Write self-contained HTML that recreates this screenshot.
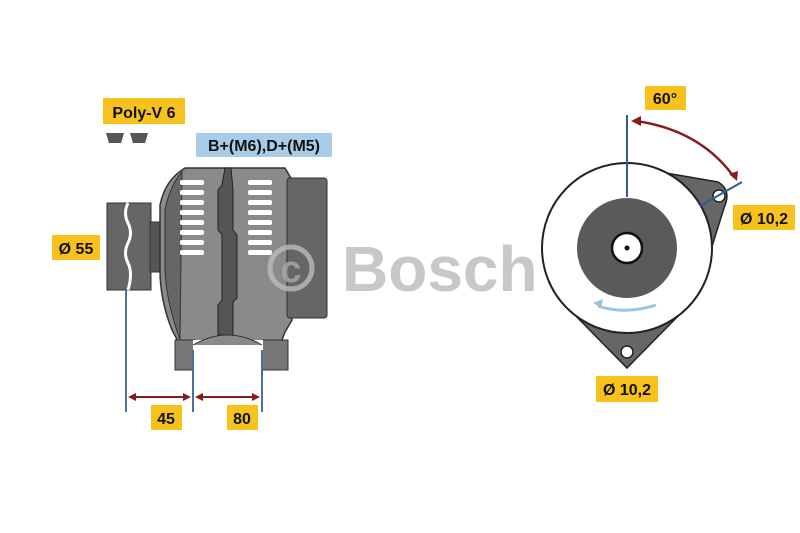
<!DOCTYPE html>
<html><head><style>html,body{margin:0;padding:0;background:#fff}svg{display:block}</style></head><body>
<svg width="800" height="533" viewBox="0 0 800 533" xmlns="http://www.w3.org/2000/svg" font-family="Liberation Sans, sans-serif" font-weight="bold">
<rect width="800" height="533" fill="#fff"/>
<!-- pulley -->
<rect x="107" y="203" width="44" height="87" fill="#666" stroke="#333"/>
<rect x="150" y="222" width="10" height="50" fill="#555" stroke="#333"/>
<path d="M128 203 q-5 10 0 20 q5 10 0 20 q-5 10 0 20 q5 10 0 27" stroke="#fff" stroke-width="3" fill="none"/>
<!-- body -->
<path d="M160 205 Q165 180 185 168 L285 168 L292 180 L292 320 L285 332 L280 345 L180 345 L172 330 Q160 300 160 270 Z" fill="#8a8a8a" stroke="#333" stroke-width="1.5"/>
<path d="M165 210 Q170 185 182 172 L180 340 Q166 300 165 270 Z" fill="#666" stroke="#333"/>
<path d="M225 168 L222 185 L218 190 L218 230 L222 235 L222 300 L218 305 L218 335 L233 335 L233 302 L237 298 L237 235 L233 230 L233 190 L231 168 Z" fill="#555" stroke="#222"/>
<g fill="#fff">
<rect x="180" y="180" width="24" height="5" rx="2"/><rect x="180" y="190" width="24" height="5" rx="2"/><rect x="180" y="200" width="24" height="5" rx="2"/><rect x="180" y="210" width="24" height="5" rx="2"/><rect x="180" y="220" width="24" height="5" rx="2"/><rect x="180" y="230" width="24" height="5" rx="2"/><rect x="180" y="240" width="24" height="5" rx="2"/><rect x="180" y="250" width="24" height="5" rx="2"/>
<rect x="248" y="180" width="24" height="5" rx="2"/><rect x="248" y="190" width="24" height="5" rx="2"/><rect x="248" y="200" width="24" height="5" rx="2"/><rect x="248" y="210" width="24" height="5" rx="2"/><rect x="248" y="220" width="24" height="5" rx="2"/><rect x="248" y="230" width="24" height="5" rx="2"/><rect x="248" y="240" width="24" height="5" rx="2"/><rect x="248" y="250" width="24" height="5" rx="2"/>
</g>
<rect x="287" y="178" width="40" height="140" rx="3" fill="#666" stroke="#333"/>
<!-- feet -->
<path d="M175 340 L195 340 L195 370 L175 370 Z" fill="#777" stroke="#333"/>
<path d="M262 340 L288 340 L288 370 L262 370 Z" fill="#777" stroke="#333"/>
<rect x="193" y="340" width="70" height="35" fill="#fff"/>
<path d="M193 345 Q228 325 262 345" fill="#8a8a8a" stroke="#333"/>
<!-- belt icon -->
<path d="M106 133 h18 l-3 10 h-12 z M130 133 h18 l-3 10 h-12 z" fill="#555"/>
<!-- watermark -->
<circle cx="291" cy="268" r="21" fill="none" stroke="#bbb" stroke-width="5" opacity="0.8"/>
<text x="291" y="282" font-size="38" fill="#aaa" text-anchor="middle" opacity="0.8">c</text>
<text x="342" y="291" font-size="64" fill="#c8c8c8">Bosch</text>
<!-- dimension lines -->
<g stroke="#4a6fa5" stroke-width="2">
<line x1="126" y1="290" x2="126" y2="412"/><line x1="193" y1="350" x2="193" y2="412"/><line x1="262" y1="350" x2="262" y2="412"/>
</g>
<g stroke="#8b1a1a" stroke-width="2" fill="#8b1a1a">
<line x1="130" y1="397" x2="189" y2="397"/><line x1="197" y1="397" x2="258" y2="397"/>
<path d="M128 397 l8 -4 v8z M191 397 l-8 -4 v8z M195 397 l8 -4 v8z M260 397 l-8 -4 v8z" stroke="none"/>
</g>
<!-- labels left -->
<rect x="103" y="98" width="82" height="26" fill="#f6c21b"/><text x="144" y="118" font-size="16" text-anchor="middle" fill="#111">Poly-V 6</text>
<rect x="196" y="133" width="136" height="24" fill="#a9cde8"/><text x="264" y="151" font-size="16" text-anchor="middle" fill="#111">B+(M6),D+(M5)</text>
<rect x="52" y="235" width="48" height="25" fill="#f6c21b"/><text x="76" y="254" font-size="16" text-anchor="middle" fill="#111">Ø 55</text>
<rect x="151" y="405" width="31" height="25" fill="#f6c21b"/><text x="166" y="424" font-size="16" text-anchor="middle" fill="#111">45</text>
<rect x="227" y="405" width="31" height="25" fill="#f6c21b"/><text x="242" y="424" font-size="16" text-anchor="middle" fill="#111">80</text>
<!-- right view -->
<path d="M660 172 L718 182 Q732 190 724 208 L700 285 Z" fill="#666" stroke="#222" stroke-width="1.5"/>
<path d="M570 310 L627 368 L684 310 Z" fill="#666" stroke="#222" stroke-width="1.5"/>
<circle cx="627" cy="248" r="85" fill="#fff" stroke="#222" stroke-width="2"/>
<circle cx="627" cy="248" r="50" fill="#5a5a5a"/>
<circle cx="627" cy="248" r="15" fill="#fff" stroke="#111" stroke-width="2.5"/>
<circle cx="627" cy="248" r="2.5" fill="#111"/>
<circle cx="719" cy="196" r="6" fill="#fff" stroke="#222" stroke-width="1.5"/>
<circle cx="627" cy="352" r="6" fill="#fff" stroke="#222" stroke-width="1.5"/>
<path d="M656 305 Q625 315 598 306" stroke="#9ac3e0" stroke-width="3" fill="none"/>
<path d="M593 303 l10 -4 l-2 9 z" fill="#9ac3e0"/>
<line x1="627" y1="115" x2="627" y2="197" stroke="#2f5b95" stroke-width="2"/>
<line x1="700" y1="206" x2="742" y2="182" stroke="#2f5b95" stroke-width="2"/>
<path d="M636 121 Q700 130 734 177" stroke="#8b1a1a" stroke-width="2.5" fill="none"/>
<path d="M631 121 l10 -5 l0 10 z M737 181 l-8 -7 l9 -3 z" fill="#8b1a1a"/>
<rect x="645" y="86" width="41" height="24" fill="#f6c21b"/><text x="665" y="104" font-size="16" text-anchor="middle" fill="#111">60°</text>
<rect x="733" y="205" width="62" height="25" fill="#f6c21b"/><text x="764" y="224" font-size="16" text-anchor="middle" fill="#111">Ø 10,2</text>
<rect x="596" y="376" width="62" height="26" fill="#f6c21b"/><text x="627" y="395" font-size="16" text-anchor="middle" fill="#111">Ø 10,2</text>
</svg>
</body></html>
